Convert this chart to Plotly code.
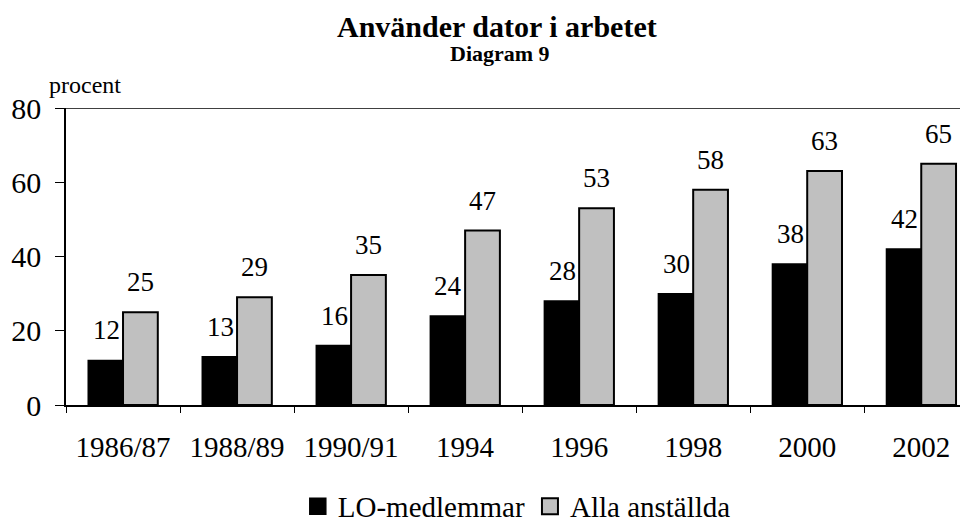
import plotly.graph_objects as go

# Data
years = ["1986/87", "1988/89", "1990/91", "1994", "1996", "1998", "2000", "2002"]
lo_medlemmar = [12, 13, 16, 24, 28, 30, 38, 42]
alla_anstallda = [25, 29, 35, 47, 53, 58, 63, 65]

font_family = "Liberation Serif, Times New Roman, serif"
grey = "#c0c0c0"

fig = go.Figure()
fig.add_trace(go.Bar(
    x=years, y=lo_medlemmar, name="LO-medlemmar", showlegend=False,
    marker=dict(color="black", line=dict(color="black", width=1.5)),
))
fig.add_trace(go.Bar(
    x=years, y=alla_anstallda, name="Alla anställda", showlegend=False,
    marker=dict(color=grey, line=dict(color="black", width=2)),
))

# legend entries with big square symbols like the original
fig.add_trace(go.Scatter(x=[None], y=[None], mode="markers", name="LO-medlemmar",
                         marker=dict(symbol="square", size=20, color="black",
                                     line=dict(color="black", width=1.5))))
fig.add_trace(go.Scatter(x=[None], y=[None], mode="markers", name="Alla anställda",
                         marker=dict(symbol="square", size=18, color=grey,
                                     line=dict(color="black", width=2))))

# value labels above the bars (x given as category index)
for i, v in enumerate(lo_medlemmar):
    fig.add_annotation(x=i, y=v, text=str(v), xshift=-17, yanchor="bottom", yshift=13,
                       showarrow=False, font=dict(family=font_family, size=27))
for i, v in enumerate(alla_anstallda):
    fig.add_annotation(x=i, y=v, text=str(v), xshift=17, yanchor="bottom", yshift=13,
                       showarrow=False, font=dict(family=font_family, size=27))

fig.update_layout(
    width=960, height=518,
    margin=dict(l=58, r=0, t=100, b=121),
    paper_bgcolor="white", plot_bgcolor="white",
    font=dict(family=font_family, color="black"),
    barmode="group", bargap=0.39, bargroupgap=0,
    showlegend=True,
    legend=dict(orientation="h", xref="container", yref="container",
                x=0.53, xanchor="center", y=0.038, yanchor="middle",
                font=dict(family=font_family, size=29, color="black"),
                traceorder="normal"),
    xaxis=dict(
        type="category", range=[-0.5, 7.41], showline=True, linecolor="black",
        linewidth=1.5, ticks="outside", ticklen=6, tickson="boundaries",
        tickcolor="black", tickwidth=1, tickfont=dict(family=font_family, size=29),
        ticklabelstandoff=15, showgrid=False,
    ),
    yaxis=dict(
        range=[0, 80], dtick=20, showline=True, linecolor="black", linewidth=1.5,
        ticks="outside", ticklen=9, tickcolor="black", tickwidth=1,
        tickfont=dict(family=font_family, size=30), ticklabelstandoff=8,
        showgrid=False, zeroline=False,
    ),
)

# top border of the plot area
fig.add_shape(type="line", xref="paper", yref="y", x0=0, x1=1, y0=80, y1=80,
              line=dict(color="black", width=1.5))

fig.add_annotation(text="<b>Använder dator i arbetet</b>", xref="paper", yref="paper",
                   x=0.478, y=1.0, yanchor="middle", yshift=82, showarrow=False,
                   font=dict(family=font_family, size=30))
fig.add_annotation(text="<b>Diagram 9</b>", xref="paper", yref="paper",
                   x=0.481, y=1.0, yanchor="middle", yshift=55, showarrow=False,
                   font=dict(family=font_family, size=22))
fig.add_annotation(text="procent", xref="paper", yref="paper",
                   x=-0.021, xanchor="left", y=1.0, yanchor="middle", yshift=23,
                   showarrow=False, font=dict(family=font_family, size=24))

fig.write_html("out.html")
